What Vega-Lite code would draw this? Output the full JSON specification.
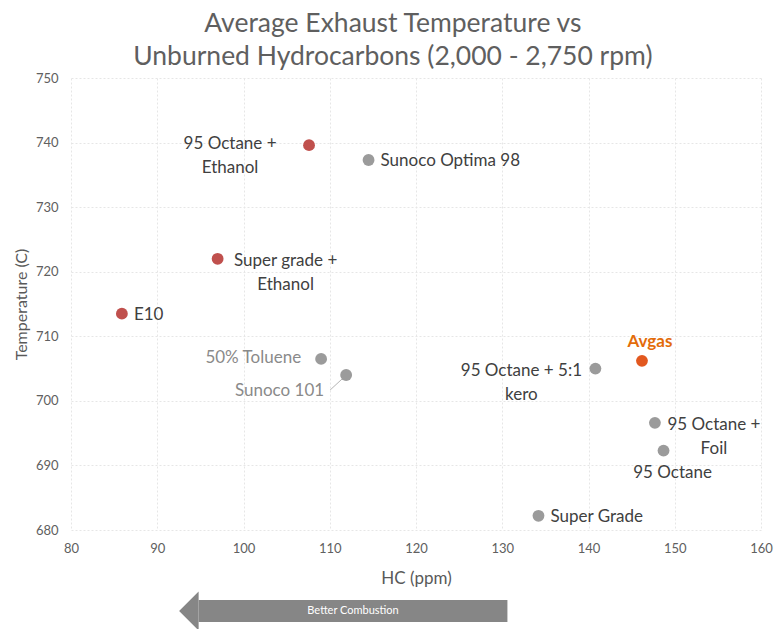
{
  "$schema": "https://vega.github.io/schema/vega-lite/v6.json",
  "background": "white",
  "padding": {"left": 13, "right": 2, "top": 10, "bottom": 0},
  "bounds": "flush",
  "spacing": 70,
  "config": {"font": "Lato", "view": {"stroke": null}},
  "datasets": {
    "fuels": [
      {"fuel": "95 Octane + Ethanol", "label": "95 Octane +\nEthanol", "group": "Ethanol blend", "hc": 107.6, "temp": 739.6},
      {"fuel": "Sunoco Optima 98", "label": "Sunoco Optima 98", "group": "Other", "hc": 114.5, "temp": 737.3},
      {"fuel": "Super grade + Ethanol", "label": "Super grade +\nEthanol", "group": "Ethanol blend", "hc": 97.0, "temp": 722.0},
      {"fuel": "E10", "label": "E10", "group": "Ethanol blend", "hc": 85.9, "temp": 713.5},
      {"fuel": "50% Toluene", "label": "50% Toluene", "group": "Other", "hc": 109.0, "temp": 706.5},
      {"fuel": "Sunoco 101", "label": "Sunoco 101", "group": "Other", "hc": 111.9, "temp": 704.0},
      {"fuel": "95 Octane + 5:1 kero", "label": "95 Octane + 5:1\nkero", "group": "Other", "hc": 140.8, "temp": 705.0},
      {"fuel": "Avgas", "label": "Avgas", "group": "Avgas", "hc": 146.2, "temp": 706.2},
      {"fuel": "95 Octane + Foil", "label": "95 Octane +\nFoil", "group": "Other", "hc": 147.7, "temp": 696.6},
      {"fuel": "95 Octane", "label": "95 Octane", "group": "Other", "hc": 148.7, "temp": 692.3},
      {"fuel": "Super Grade", "label": "Super Grade", "group": "Other", "hc": 134.2, "temp": 682.2}
    ],
    "arrow": [
      {"direction": "Better Combustion", "from": 94.8, "to": 130.6}
    ]
  },
  "vconcat": [
    {
      "width": 690,
      "height": 452,
      "title": {
        "text": ["Average Exhaust Temperature vs", "Unburned Hydrocarbons (2,000 - 2,750 rpm)"],
        "fontSize": 26.5,
        "fontWeight": "normal",
        "font": "Lato",
        "color": "#5f5f5f",
        "lineHeight": 33,
        "anchor": "middle",
        "frame": "bounds",
        "offset": 2
      },
      "data": {"name": "fuels"},
      "encoding": {
        "x": {
          "field": "hc",
          "type": "quantitative",
          "scale": {"domain": [80, 160], "nice": false, "zero": false},
          "axis": {
            "title": "HC (ppm)",
            "values": [80, 90, 100, 110, 120, 130, 140, 150, 160],
            "grid": true,
            "gridColor": "#e6e6e6",
            "gridDash": [2, 2],
            "domain": false,
            "ticks": false,
            "labelFlush": false,
            "labelPadding": 12,
            "labelFontSize": 13,
            "labelColor": "#606060",
            "titleFontSize": 17,
            "titleColor": "#595959",
            "titleFontWeight": "normal",
            "titlePadding": 15
          }
        },
        "y": {
          "field": "temp",
          "type": "quantitative",
          "scale": {"domain": [680, 750], "nice": false, "zero": false},
          "axis": {
            "title": "Temperature (C)",
            "values": [680, 690, 700, 710, 720, 730, 740, 750],
            "grid": true,
            "gridColor": "#e6e6e6",
            "gridDash": [2, 2],
            "domain": false,
            "ticks": false,
            "labelFlush": false,
            "labelPadding": 13,
            "labelFontSize": 13,
            "labelColor": "#606060",
            "titleFontSize": 16,
            "titleColor": "#595959",
            "titleFontWeight": "normal",
            "titlePadding": 6
          }
        }
      },
      "layer": [
        {
          "transform": [{"filter": "datum.fuel === 'Sunoco 101'"}],
          "mark": {"type": "point", "shape": "M -1.6 1.5 L -0.3 0.3", "filled": false, "size": 400, "stroke": "#b5b5b5", "strokeWidth": 1, "opacity": 1}
        },
        {
          "mark": {"type": "point", "filled": true, "size": 140, "opacity": 1},
          "encoding": {
            "color": {
              "field": "group",
              "type": "nominal",
              "scale": {"domain": ["Ethanol blend", "Other", "Avgas"], "range": ["#c0504d", "#9b9b9b", "#e2581f"]},
              "legend": null
            }
          }
        },
        {
          "transform": [{"filter": "datum.fuel === '95 Octane + Ethanol'"}],
          "mark": {"type": "text", "align": "center", "baseline": "middle", "dx": -79, "dy": -1, "fontSize": 17, "lineHeight": 24, "lineBreak": "\n", "color": "#404040"},
          "encoding": {"text": {"field": "label"}}
        },
        {
          "transform": [{"filter": "datum.fuel === 'Sunoco Optima 98' || datum.fuel === 'E10' || datum.fuel === 'Super Grade'"}],
          "mark": {"type": "text", "align": "left", "baseline": "middle", "dx": 12, "dy": 1, "fontSize": 17, "color": "#404040"},
          "encoding": {"text": {"field": "label"}}
        },
        {
          "transform": [{"filter": "datum.fuel === 'Super grade + Ethanol'"}],
          "mark": {"type": "text", "align": "center", "baseline": "middle", "dx": 68, "dy": 2, "fontSize": 17, "lineHeight": 24, "lineBreak": "\n", "color": "#404040"},
          "encoding": {"text": {"field": "label"}}
        },
        {
          "transform": [{"filter": "datum.fuel === '50% Toluene'"}],
          "mark": {"type": "text", "align": "right", "baseline": "middle", "dx": -20, "dy": -1, "fontSize": 17, "color": "#8a8a8a"},
          "encoding": {"text": {"field": "label"}}
        },
        {
          "transform": [{"filter": "datum.fuel === 'Sunoco 101'"}],
          "mark": {"type": "text", "align": "right", "baseline": "middle", "dx": -22, "dy": 16, "fontSize": 17, "color": "#8a8a8a"},
          "encoding": {"text": {"field": "label"}}
        },
        {
          "transform": [{"filter": "datum.fuel === '95 Octane + 5:1 kero'"}],
          "mark": {"type": "text", "align": "center", "baseline": "middle", "dx": -74, "dy": 2, "fontSize": 17, "lineHeight": 24, "lineBreak": "\n", "color": "#404040"},
          "encoding": {"text": {"field": "label"}}
        },
        {
          "transform": [{"filter": "datum.fuel === 'Avgas'"}],
          "mark": {"type": "text", "align": "center", "baseline": "middle", "dx": 8, "dy": -19, "fontSize": 17, "fontWeight": "bold", "color": "#e36c09"},
          "encoding": {"text": {"field": "label"}}
        },
        {
          "transform": [{"filter": "datum.fuel === '95 Octane + Foil'"}],
          "mark": {"type": "text", "align": "center", "baseline": "middle", "dx": 59, "dy": 2, "fontSize": 17, "lineHeight": 24, "lineBreak": "\n", "color": "#404040"},
          "encoding": {"text": {"field": "label"}}
        },
        {
          "transform": [{"filter": "datum.fuel === '95 Octane'"}],
          "mark": {"type": "text", "align": "center", "baseline": "middle", "dx": 9, "dy": 22, "fontSize": 17, "color": "#404040"},
          "encoding": {"text": {"field": "label"}}
        }
      ]
    },
    {
      "width": 690,
      "height": 22,
      "data": {"name": "arrow"},
      "encoding": {
        "x": {"field": "from", "type": "quantitative", "scale": {"domain": [80, 160], "nice": false, "zero": false}, "axis": null}
      },
      "layer": [
        {
          "mark": {"type": "rect", "color": "#868686"},
          "encoding": {"x2": {"field": "to"}}
        },
        {
          "mark": {"type": "point", "shape": "M 0 -1 L -1 0 L 0 1 Z", "filled": true, "size": 1521, "color": "#868686", "opacity": 1},
          "encoding": {}
        },
        {
          "transform": [{"calculate": "(datum.from + datum.to) / 2", "as": "mid"}],
          "mark": {"type": "text", "color": "white", "fontSize": 11, "baseline": "middle"},
          "encoding": {
            "x": {"field": "mid", "type": "quantitative"},
            "text": {"field": "direction"}
          }
        }
      ]
    }
  ]
}
